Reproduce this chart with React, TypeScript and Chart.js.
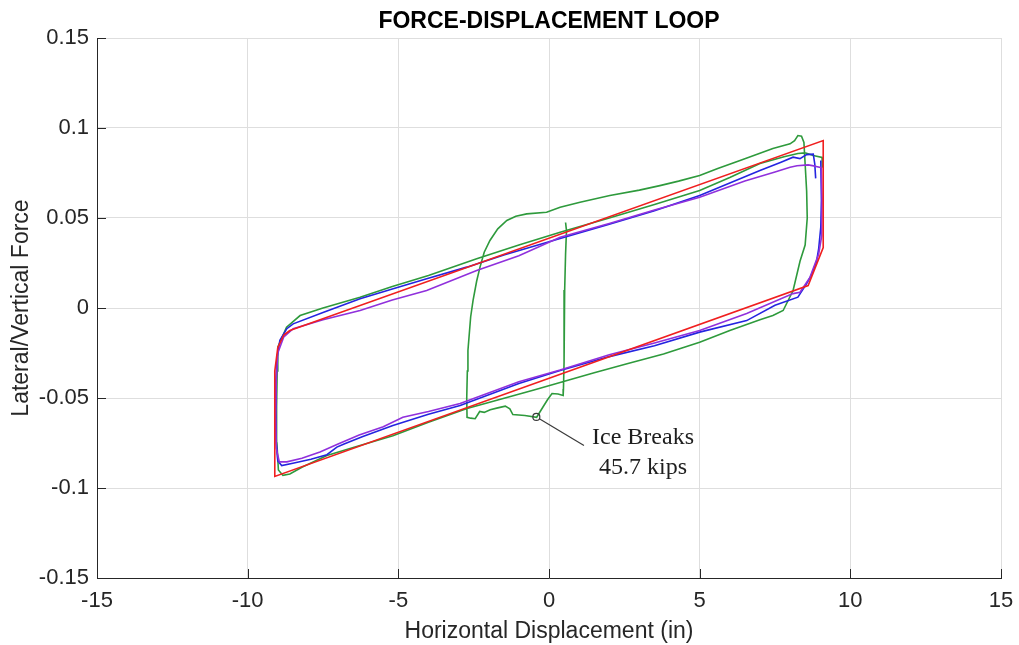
import React, { useEffect, useRef } from 'react';
import { Chart, registerables } from 'chart.js';

Chart.register(...registerables);

// Axis tick values
const xTicks = [-15, -10, -5, 0, 5, 10, 15];
const yTicks = [-0.15, -0.1, -0.05, 0, 0.05, 0.1, 0.15];

// Idealized bilinear loop
const redX = [-8.6, 9.1, 9.1, 8.6, -9.1, -9.1, -9.0, -8.8, -8.6];
const redY = [-0.0125, 0.093, 0.0336, 0.0125, -0.0936, -0.035, -0.022, -0.015, -0.0125];

// Test cycle (blue)
const blueX = [
  9.02, 9.04, 9.02, 8.95, 8.88, 8.7, 8.55, 8.26, 7.5, 6.56, 5.0, 3.5, 2.0, 0.37, -1.0, -2.95, -4.0,
  -5.18, -6.2, -6.8, -7.04, -7.37, -7.9, -8.5, -8.87, -9.0, -9.05, -9.07, -9.06, -9.03, -8.93, -8.7,
  -8.49, -7.5, -6.27, -5.2, -4.06, -2.73, -1.5, 0.37, 2.0, 3.5, 5.0, 6.0, 7.0, 7.7, 8.1, 8.33, 8.55,
  8.77, 8.82, 8.85,
];
const blueY = [
  0.082, 0.06, 0.045, 0.033, 0.026, 0.018, 0.0135, 0.006, 0.0015, -0.007, -0.0134, -0.021, -0.027,
  -0.0347, -0.042, -0.0542, -0.059, -0.0653, -0.0715, -0.0755, -0.0773, -0.0815, -0.084, -0.0862,
  -0.0875, -0.085, -0.075, -0.055, -0.04, -0.028, -0.018, -0.0115, -0.0088, -0.0025, 0.0051, 0.0105,
  0.0162, 0.0227, 0.0295, 0.0386, 0.0465, 0.054, 0.0625, 0.0695, 0.0764, 0.081, 0.0838, 0.083,
  0.0852, 0.0855, 0.08, 0.072,
];

// Test cycle (purple)
const purpleX = [
  8.83, 9.04, 9.06, 9.05, 8.95, 8.66, 8.33, 8.1, 6.56, 5.0, 3.5, 2.0, 0.37, -1.0, -2.95, -4.0, -4.85,
  -5.5, -6.3, -7.0, -7.6, -8.2, -8.7, -8.95, -9.05, -9.07, -9.05, -9.0, -8.8, -8.49, -7.5, -6.27,
  -5.2, -4.06, -2.4, -1.0, 0.37, 2.0, 3.5, 5.0, 6.5, 7.5, 8.0, 8.23, 8.6, 8.83,
];
const purpleY = [
  0.0788, 0.078, 0.06, 0.04, 0.03, 0.017, 0.0088, 0.008, -0.003, -0.0125, -0.0195, -0.026, -0.0345,
  -0.041, -0.053, -0.0575, -0.0607, -0.066, -0.0705, -0.0755, -0.08, -0.0835, -0.0855, -0.0855,
  -0.078, -0.06, -0.04, -0.025, -0.016, -0.0115, -0.0065, -0.0014, 0.0045, 0.0097, 0.0208, 0.029,
  0.0393, 0.047, 0.0545, 0.0615, 0.0705, 0.0755, 0.0782, 0.079, 0.0795, 0.0788,
];

// First test with ice, then a full cycle (green)
const greenX = [
  0.55, 0.58, 0.55, 0.52, 0.5, 0.5, 0.48, 0.47, 0.3, 0.1, -0.05, -0.2, -0.41, -0.8, -1.2, -1.3,
  -1.45, -1.7, -1.95, -2.15, -2.3, -2.45, -2.6, -2.72, -2.73, -2.71, -2.69, -2.6, -2.52, -2.4,
  -2.29, -2.15, -1.96, -1.7, -1.4, -1.1, -0.74, -0.08, 0.37, 1.03, 2.02, 3.0, 3.68, 4.3, 5.0, 5.6,
  6.34, 7.0, 7.43, 8.0, 8.15, 8.26, 8.38, 8.46, 8.5, 8.55, 8.57, 8.5, 8.33, 8.1, 7.77, 7.43, 7.0,
  6.0, 5.0, 3.8, 2.59, 1.5, 0.6, -0.5, -1.4, -2.72, -4.0, -5.18, -6.3, -7.37, -8.2, -8.6, -8.83,
  -8.98, -9.03, -9.04, -9.02, -9.0, -8.71, -8.26, -7.5, -6.27, -5.2, -4.0, -2.4, -1.0, 0.37, 2.0,
  3.5, 5.0, 6.0, 7.0, 7.8, 8.26, 8.5, 8.77, 9.06, 9.08,
];
const greenY = [
  0.0475, 0.043, 0.03, 0.01, -0.01, -0.03, -0.045, -0.0486, -0.0478, -0.0475, -0.051, -0.055,
  -0.0607, -0.0597, -0.0592, -0.056, -0.0545, -0.0555, -0.0565, -0.058, -0.0575, -0.0615, -0.0612,
  -0.0607, -0.05, -0.035, -0.0236, -0.005, 0.0042, 0.015, 0.0227, 0.031, 0.0375, 0.044, 0.0486,
  0.051, 0.0523, 0.0532, 0.056, 0.0588, 0.0625, 0.0655, 0.068, 0.0705, 0.0736, 0.0775, 0.082,
  0.086, 0.0886, 0.0912, 0.093, 0.0958, 0.0955, 0.092, 0.08, 0.065, 0.05, 0.035, 0.026, 0.0097,
  -0.0014, -0.0042, -0.0065, -0.0125, -0.019, -0.0255, -0.031, -0.036, -0.0403, -0.0455, -0.0497,
  -0.0558, -0.0635, -0.071, -0.0765, -0.082, -0.0885, -0.0922, -0.093, -0.09, -0.075, -0.055,
  -0.035, -0.0218, -0.0107, -0.0042, 0.0, 0.006, 0.012, 0.018, 0.0273, 0.035, 0.0421, 0.05,
  0.0575, 0.0653, 0.0725, 0.0803, 0.084, 0.0858, 0.0862, 0.0847, 0.0836, 0.078,
];

// Ice-break callout
const iceBreak = { x: -0.42, y: -0.0605 };
const calloutEnd = { x: 1.16, y: -0.0764 };
const calloutText = ['Ice Breaks', '45.7 kips'];
const calloutTextAt = [
  { x: 3.12, y: -0.0718 },
  { x: 3.12, y: -0.0885 },
];

const chartTitle = 'FORCE-DISPLACEMENT LOOP';
const xTitle = 'Horizontal Displacement (in)';
const yTitle = 'Lateral/Vertical Force';

const SANS = "'Liberation Sans', Arial, Helvetica, sans-serif";
const SERIF = "'Liberation Serif', 'Times New Roman', serif";
const AXIS = '#262626';

const pts = (xs: number[], ys: number[]) => xs.map((x, i) => ({ x, y: ys[i] }));

const overlayPlugin = {
  id: 'overlay',
  afterDatasetsDraw(chart: any) {
    const { ctx, chartArea, scales } = chart;
    const xs = scales.x;
    const ys = scales.y;
    ctx.save();

    // inward tick marks on the left and bottom axes
    ctx.strokeStyle = AXIS;
    ctx.lineWidth = 1;
    ctx.beginPath();
    xTicks.forEach((v) => {
      const p = Math.round(xs.getPixelForValue(v)) + 0.5;
      ctx.moveTo(p, chartArea.bottom);
      ctx.lineTo(p, chartArea.bottom - 9);
    });
    yTicks.forEach((v) => {
      const p = Math.round(ys.getPixelForValue(v)) + 0.5;
      ctx.moveTo(chartArea.left, p);
      ctx.lineTo(chartArea.left + 9, p);
    });
    ctx.stroke();

    // ice-break marker and leader
    const cx = xs.getPixelForValue(iceBreak.x);
    const cy = ys.getPixelForValue(iceBreak.y);
    const ex = xs.getPixelForValue(calloutEnd.x);
    const ey = ys.getPixelForValue(calloutEnd.y);
    const r = 3.5;
    const ang = Math.atan2(ey - cy, ex - cx);
    ctx.strokeStyle = '#3a3a3a';
    ctx.lineWidth = 1.2;
    ctx.beginPath();
    ctx.arc(cx, cy, r, 0, Math.PI * 2);
    ctx.stroke();
    ctx.beginPath();
    ctx.moveTo(cx + r * Math.cos(ang), cy + r * Math.sin(ang));
    ctx.lineTo(ex, ey);
    ctx.stroke();

    ctx.fillStyle = '#1e1e1e';
    ctx.font = `24px ${SERIF}`;
    ctx.textAlign = 'center';
    ctx.textBaseline = 'middle';
    calloutText.forEach((t, i) => {
      ctx.fillText(t, xs.getPixelForValue(calloutTextAt[i].x), ys.getPixelForValue(calloutTextAt[i].y));
    });

    // chart title
    ctx.fillStyle = '#000';
    ctx.font = `bold 23px ${SANS}`;
    ctx.fillText(chartTitle, (chartArea.left + chartArea.right) / 2, 22);

    ctx.restore();
  },
};

export default function App() {
  const canvasRef = useRef<HTMLCanvasElement | null>(null);

  useEffect(() => {
    const canvas = canvasRef.current;
    if (!canvas) return;

    const line = (label: string, data: any[], color: string) => ({
      label,
      data,
      borderColor: color,
      backgroundColor: color,
      borderWidth: 1.6,
      showLine: true,
      pointRadius: 0,
      tension: 0,
      fill: false,
    });

    const chart = new Chart(canvas, {
      type: 'scatter',
      data: {
        datasets: [
          line('Bilinear', pts(redX, redY), '#f01f1f'),
          line('Cycle B', pts(purpleX, purpleY), '#9030dc'),
          line('Cycle A', pts(blueX, blueY), '#2424e0'),
          line('Ice test', pts(greenX, greenY), '#2e9a3c'),
        ],
      },
      options: {
        animation: false,
        responsive: false,
        maintainAspectRatio: false,
        devicePixelRatio: 1,
        layout: { padding: { top: 38, right: 18, bottom: 0, left: 0 } },
        plugins: {
          legend: { display: false },
          tooltip: { enabled: false },
          title: { display: false },
        },
        scales: {
          x: {
            type: 'linear',
            min: -15,
            max: 15,
            afterBuildTicks: (s: any) => {
              s.ticks = xTicks.map((v) => ({ value: v }));
            },
            afterFit: (s: any) => {
              s.height = 67;
              s.paddingLeft = 0;
              s.paddingRight = 0;
            },
            grid: { color: '#dedede', lineWidth: 1, drawTicks: false },
            border: { display: true, color: AXIS, width: 1 },
            ticks: {
              padding: 10,
              color: AXIS,
              font: { family: SANS, size: 22 },
              maxRotation: 0,
              callback: (v: any) => String(Math.round(Number(v) * 1000) / 1000),
            },
            title: {
              display: true,
              text: xTitle,
              color: AXIS,
              font: { family: SANS, size: 23, lineHeight: 1 },
              padding: { top: 0, bottom: 1.5 },
            },
          },
          y: {
            type: 'linear',
            min: -0.15,
            max: 0.15,
            afterBuildTicks: (s: any) => {
              s.ticks = yTicks.map((v) => ({ value: v }));
            },
            afterFit: (s: any) => {
              s.width = 97;
              s.paddingTop = 0;
              s.paddingBottom = 0;
            },
            grid: { color: '#dedede', lineWidth: 1, drawTicks: false },
            border: { display: true, color: AXIS, width: 1 },
            ticks: {
              padding: 8,
              color: AXIS,
              font: { family: SANS, size: 22 },
              callback: (v: any) => {
                const r = Math.round(Number(v) * 1000) / 1000;
                return String(r === 0 ? 0 : r);
              },
            },
            title: {
              display: true,
              text: yTitle,
              color: AXIS,
              font: { family: SANS, size: 23, lineHeight: 1 },
              padding: { top: 10.5, bottom: 0 },
            },
          },
        },
      },
      plugins: [overlayPlugin],
    });

    return () => chart.destroy();
  }, []);

  return (
    <div
      style={{
        position: 'fixed',
        left: 0,
        top: 0,
        width: 1019,
        height: 645,
        background: '#fff',
      }}
    >
      <canvas ref={canvasRef} width={1019} height={645} style={{ display: 'block' }} />
    </div>
  );
}
